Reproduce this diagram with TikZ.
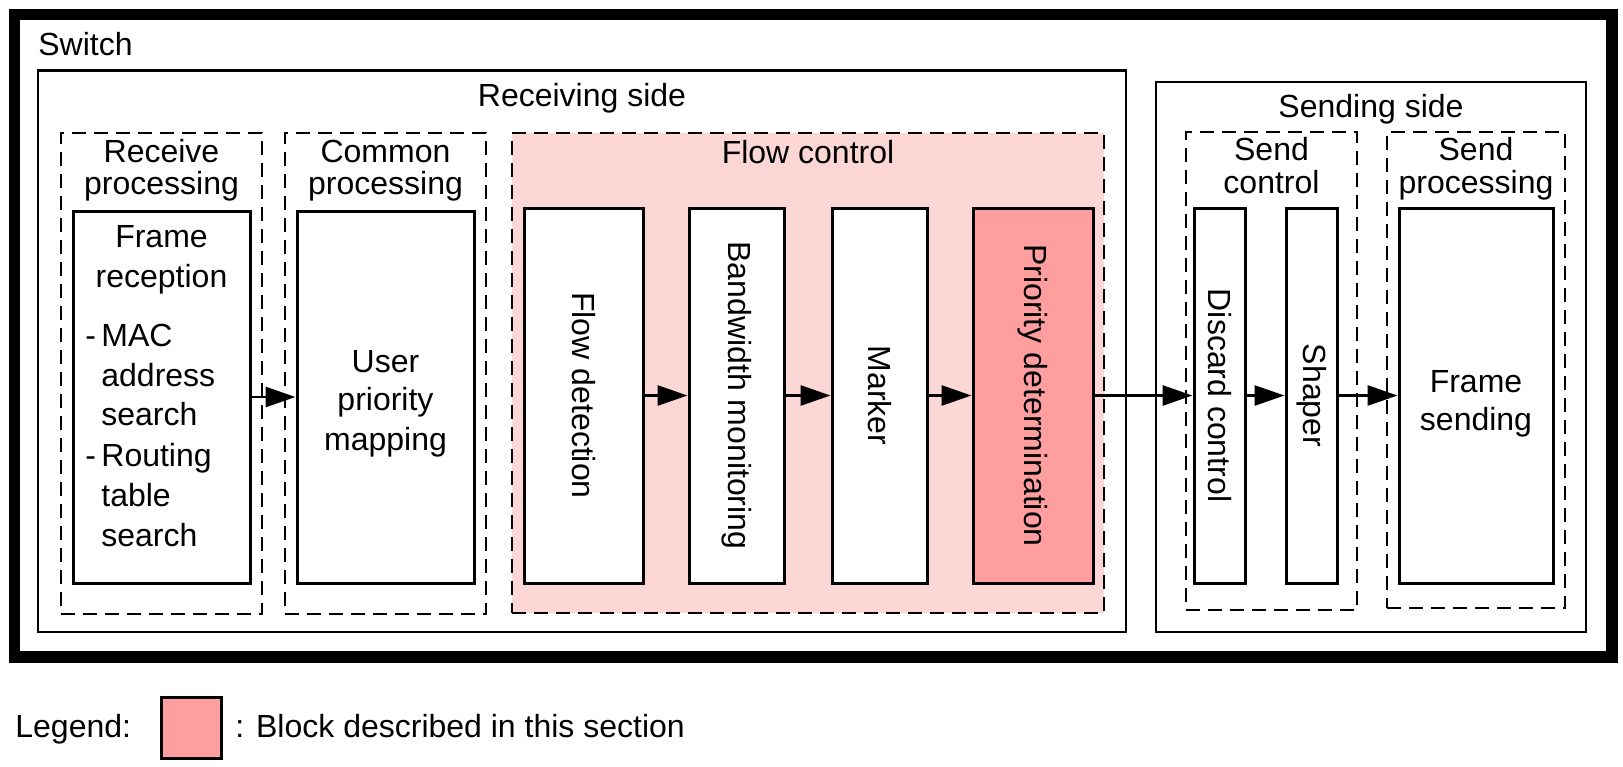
\documentclass[tikz,border=0pt]{standalone}
\usepackage{fontspec}
\setmainfont{Liberation Sans}
\usetikzlibrary{arrows.meta,fit}
\newcommand{\fs}{\fontsize{16}{18}\selectfont}
\definecolor{lightpink}{RGB}{253,214,214}
\definecolor{darkpink}{RGB}{255,158,158}
\tikzset{
  outerframe/.style={draw, line width=5.75pt},
  sidebox/.style={draw, line width=1.45pt, inner sep=0pt},
  dbox/.style={draw, line width=1.45pt, dash pattern=on 7pt off 4pt, inner sep=0pt},
  blockbox/.style={draw, line width=1.5pt, fill=white, inner sep=0pt},
  lbl/.style={anchor=base, inner sep=0pt, font=\fs},
  lblw/.style={anchor=base west, inner sep=0pt, font=\fs},
  vlbl/.style={rotate=-90, inner sep=0pt, font=\fs},
  arr/.style={line width=1.4pt, -{Triangle[length=15pt,width=10pt]}},
}
\begin{document}
\begin{tikzpicture}[x=0.5pt,y=-0.5pt]
\useasboundingbox (0,0) rectangle (1623,766);
\fill[white] (0,0) rectangle (1623,766);

% outer frame
\node[outerframe, inner sep=0pt, fit={(14.5,14.5) (1612,657)}] (switch) {};
\node[lblw] (switchlbl) at (38,55) {Switch};

% sides
\node[sidebox, fit={(38,70.5) (1126,632)}] (recv) {};
\node[lbl] (recvlbl) at (582,106) {Receiving side};
\node[sidebox, fit={(1156,82) (1586,632)}] (send) {};
\node[lbl] (sendlbl) at (1371,117) {Sending side};

% dashed groups
\node[dbox, fit={(61,133) (262,614)}] (rp) {};
\node[lbl] (rp1) at (161.5,162) {Receive};
\node[lbl] (rp2) at (161.5,194) {processing};

\node[dbox, fit={(285,133) (486,614)}] (cp) {};
\node[lbl] (cp1) at (385.5,162) {Common};
\node[lbl] (cp2) at (385.5,194) {processing};

\node[dbox, fill=lightpink, fit={(512,133) (1104,613)}] (fc) {};
\node[lbl] (fc1) at (808,163) {Flow control};

\node[dbox, fit={(1186,132) (1357,610)}] (sc) {};
\node[lbl] (sc1) at (1271.5,160) {Send};
\node[lbl] (sc2) at (1271.5,193) {control};

\node[dbox, fit={(1387,132) (1565,608)}] (sp) {};
\node[lbl] (sp1) at (1476,160) {Send};
\node[lbl] (sp2) at (1476,193) {processing};

% blocks
\node[blockbox, fit={(73,211) (250,583)}] (fr) {};
\node[lbl] (fr1) at (161.5,247) {Frame};
\node[lbl] (fr2) at (161.5,287) {reception};
\node[lblw] (frd1) at (85,346) {-};
\node[lblw] (fr3) at (101,346) {MAC};
\node[lblw] (fr4) at (101,386) {address};
\node[lblw] (fr5) at (101,425) {search};
\node[lblw] (frd2) at (85,466) {-};
\node[lblw] (fr6) at (101,466) {Routing};
\node[lblw] (fr7) at (101,506) {table};
\node[lblw] (fr8) at (101,546) {search};

\node[blockbox, fit={(297,211) (474,583)}] (upm) {};
\node[lbl] (upm1) at (385.5,372) {User};
\node[lbl] (upm2) at (385.5,410) {priority};
\node[lbl] (upm3) at (385.5,450) {mapping};

\node[blockbox, fit={(524,208) (643,583)}] (fd) {};
\node[vlbl] (fdl) at (fd.center) {Flow detection};
\node[blockbox, fit={(689,208) (784,583)}] (bm) {};
\node[vlbl] (bml) at (bm.center) {Bandwidth monitoring};
\node[blockbox, fit={(832,208) (927,583)}] (mk) {};
\node[vlbl] (mkl) at (mk.center) {Marker};
\node[blockbox, fill=darkpink, fit={(973,208) (1093,583)}] (pd) {};
\node[vlbl] (pdl) at (pd.center) {Priority determination};

\node[blockbox, fit={(1194,208) (1245,583)}] (dc) {};
\node[vlbl] (dcl) at (dc.center) {Discard control};
\node[blockbox, fit={(1286,208) (1337,583)}] (sh) {};
\node[vlbl] (shl) at (sh.center) {Shaper};
\node[blockbox, fit={(1399,208) (1553,583)}] (fs) {};
\node[lbl] (fs1) at (1476,392) {Frame};
\node[lbl] (fs2) at (1476,430) {sending};

% arrows
\draw[arr] (fr.east) -- (upm.west);
\draw[arr] (fd.east) -- (bm.west);
\draw[arr] (bm.east) -- (mk.west);
\draw[arr] (mk.east) -- (pd.west);
\draw[arr] (pd.east) -- (dc.west);
\draw[arr] (dc.east) -- (sh.west);
\draw[arr] (sh.east) -- (fs.west);

% legend
\node[lblw] (leg) at (15,737) {Legend:};
\node[blockbox, fill=darkpink, fit={(161,697) (221,758)}] (legbox) {};
\node[lblw] (legtxt) at (235,737) {: Block described in this section};
\end{tikzpicture}
\end{document}
